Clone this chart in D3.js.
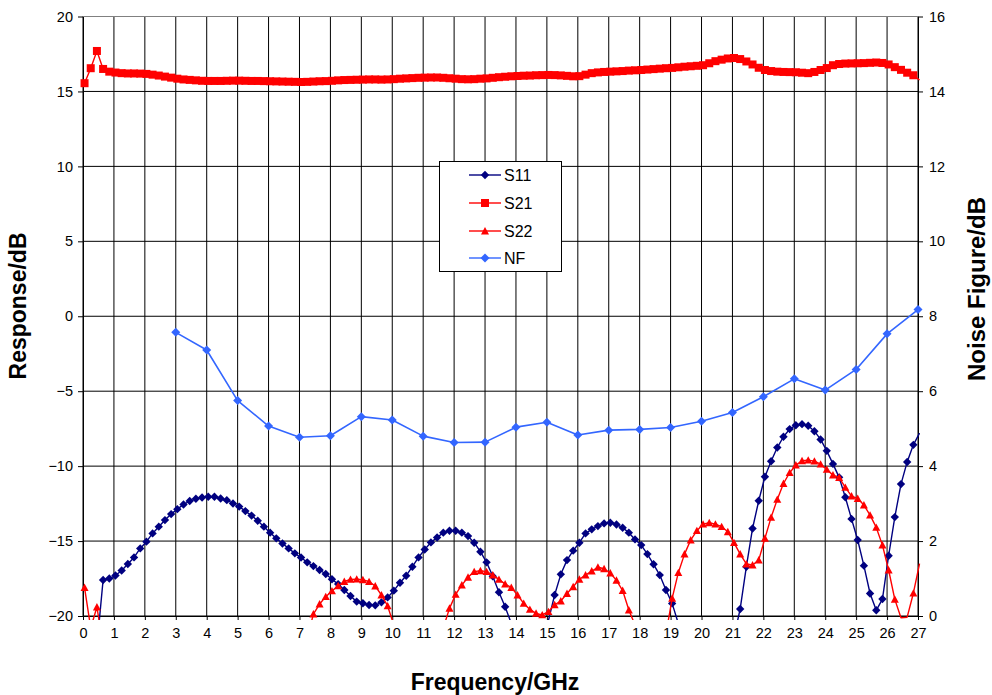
<!DOCTYPE html>
<html>
<head>
<meta charset="utf-8">
<script src="https://cdn.jsdelivr.net/npm/d3@7"></script>
<style>
  html, body { margin: 0; padding: 0; background: #fff; }
  svg { display: block; font-family: Arial, "Liberation Sans", sans-serif; }
</style>
</head>
<body>
<svg id="chart" width="992" height="695"></svg>
<script>
// ---- data ----
const freqStart = 0.05, freqStep = 0.2, nPoints = 136;
const freqs = d3.range(nPoints).map(i => +(freqStart + freqStep * i).toFixed(2));

const s11 = [-25,-25,-22,-17.6,-17.5,-17.3,-16.96,-16.53,-16.09,-15.49,
  -15.04,-14.49,-14.04,-13.6,-13.2,-12.87,-12.56,-12.33,-12.18,-12.09,
  -12.04,-12.04,-12.16,-12.27,-12.49,-12.7,-13.0,-13.3,-13.64,-14.04,
  -14.44,-14.82,-15.16,-15.49,-15.82,-16.1,-16.42,-16.67,-16.93,-17.2,
  -17.55,-17.87,-18.27,-18.67,-19.04,-19.15,-19.27,-19.29,-19.09,-18.76,
  -18.31,-17.78,-17.31,-16.71,-16.09,-15.56,-15.09,-14.76,-14.44,-14.31,
  -14.31,-14.44,-14.67,-15.11,-15.71,-16.42,-17.35,-18.42,-19.38,-20.5,
  -22,-24,-25,-25,-23,-20.3,-18.6,-17.22,-16.27,-15.64,
  -15.11,-14.49,-14.22,-14.0,-13.82,-13.78,-13.89,-14.11,-14.44,-14.89,
  -15.27,-15.87,-16.55,-17.27,-18.27,-19.16,-20.5,-22,-24,-26,
  -27,-28,-28,-27,-24,-21.4,-19.53,-16.71,-14.16,-12.31,
  -10.71,-9.67,-8.76,-8.04,-7.53,-7.27,-7.2,-7.31,-7.67,-8.22,
  -8.98,-9.85,-10.75,-12.08,-13.52,-14.93,-16.64,-18.5,-19.62,-18.87,
  -15.98,-13.4,-11.2,-9.72,-8.58,-7.8];

const s21 = [15.55,16.55,17.7,16.5,16.32,16.26,16.22,16.2,16.2,16.19,
  16.17,16.12,16.06,15.99,15.92,15.85,15.8,15.77,15.74,15.71,
  15.7,15.7,15.7,15.71,15.72,15.72,15.71,15.7,15.7,15.69,
  15.68,15.67,15.66,15.65,15.64,15.63,15.64,15.66,15.68,15.69,
  15.71,15.74,15.76,15.77,15.78,15.79,15.8,15.8,15.79,15.8,
  15.82,15.85,15.87,15.89,15.91,15.92,15.93,15.93,15.91,15.88,
  15.85,15.82,15.81,15.82,15.85,15.87,15.91,15.95,15.98,16.01,
  16.03,16.05,16.06,16.08,16.09,16.1,16.09,16.07,16.04,16.01,
  16.02,16.12,16.22,16.27,16.3,16.32,16.34,16.36,16.39,16.41,
  16.43,16.46,16.49,16.52,16.55,16.57,16.61,16.65,16.68,16.71,
  16.75,16.88,17.02,17.12,17.2,17.23,17.16,17.0,16.8,16.58,
  16.43,16.36,16.32,16.3,16.29,16.28,16.25,16.22,16.3,16.43,
  16.56,16.75,16.83,16.86,16.87,16.88,16.89,16.91,16.93,16.9,
  16.8,16.62,16.44,16.25,16.08,15.76];

const s22 = [-18.1,-20.8,-19.4,-22,-24,-26,-27,-28,-29,-29,
  -30,-30,-30,-29,-29,-28,-28,-27,-27,-26,
  -26,-26,-25,-25,-25,-25,-25,-24,-24,-24,
  -24,-23,-23,-23,-22,-22,-21.5,-19.87,-19.2,-18.71,
  -18.33,-17.98,-17.7,-17.56,-17.54,-17.58,-17.71,-18.0,-18.6,-19.33,
  -20.6,-23,-26,-28,-29,-28,-26,-23,-20.8,-19.49,
  -18.56,-17.93,-17.42,-17.04,-16.98,-17.04,-17.27,-17.56,-17.87,-18.1,
  -18.6,-19.16,-19.56,-19.82,-19.93,-19.71,-19.25,-19.0,-18.5,-18.05,
  -17.55,-17.27,-17.0,-16.75,-16.85,-17.13,-17.62,-18.3,-19.6,-20.6,
  -24,-26,-26,-24,-21.2,-18.82,-17.11,-15.87,-14.93,-14.31,
  -13.87,-13.78,-13.87,-14.04,-14.38,-15.11,-15.87,-16.53,-16.6,-16.27,
  -14.82,-13.42,-12.22,-11.16,-10.44,-9.93,-9.64,-9.6,-9.67,-9.87,
  -10.22,-10.6,-10.76,-11.42,-12.0,-12.16,-12.6,-13.27,-14.09,-15.27,
  -16.93,-18.89,-20.12,-20.08,-18.48,-16.5];

const nfFreqs = [3,4,5,6,7,8,9,10,11,12,13,14,15,16,17,18,19,20,21,22,23,24,25,26,27];
const nf = [7.57,7.1,5.75,5.07,4.77,4.81,5.32,5.23,4.8,4.63,4.64,5.04,5.17,4.83,4.96,4.98,5.03,5.2,5.43,5.85,6.33,6.03,6.58,7.53,8.18];

const xTicks = d3.range(0, 28, 1);
const yTicks = d3.range(-20, 21, 5);
const y2Ticks = d3.range(0, 17, 2);

const seriesNames = ["S11", "S21", "S22", "NF"];
const seriesColors = { S11: "#000080", S21: "#FF0000", S22: "#FF0000", NF: "#3366FF" };

// ---- layout ----
const svg = d3.select("#chart");
const L = 83, R = 918, T = 16.5, B = 616;

const x = d3.scaleLinear().domain([0, 27]).range([L, R]);
const y = d3.scaleLinear().domain([-20, 20]).range([B, T]);
const y2 = d3.scaleLinear().domain([0, 16]).range([B, T]);

svg.append("rect").attr("width", 992).attr("height", 695).attr("fill", "#fff");

// gridlines
const grid = svg.append("g").attr("stroke", "#000").attr("stroke-width", 1);
grid.selectAll("line.v").data(xTicks).join("line")
  .attr("x1", d => x(d)).attr("x2", d => x(d)).attr("y1", T).attr("y2", B);
grid.selectAll("line.h").data(yTicks).join("line")
  .attr("x1", L).attr("x2", R).attr("y1", d => y(d)).attr("y2", d => y(d));
svg.append("line").attr("x1", L).attr("x2", R).attr("y1", T).attr("y2", T).attr("stroke", "#808080");

// axes
const tickFont = g => g.selectAll("text").attr("font-size", 14.5).attr("fill", "#000")
  .attr("font-family", "Arial, 'Liberation Sans', sans-serif");
const axisStyle = g => { g.selectAll("path, line").attr("stroke", "#000"); };

svg.append("g").attr("transform", `translate(${L},0)`)
  .call(d3.axisLeft(y).tickValues(yTicks).tickSize(5).tickSizeOuter(0).tickPadding(5))
  .call(axisStyle).call(tickFont);
svg.append("g").attr("transform", `translate(${R},0)`)
  .call(d3.axisRight(y2).tickValues(y2Ticks).tickSize(5).tickSizeOuter(0).tickPadding(6))
  .call(axisStyle).call(tickFont);
svg.append("g").attr("transform", `translate(0,${B})`)
  .call(d3.axisBottom(x).tickValues(xTicks).tickSize(4).tickSizeOuter(0).tickPadding(8))
  .call(axisStyle).call(tickFont);
svg.selectAll(".domain").attr("stroke", "#000");

// axis titles
svg.append("text").attr("x", 495).attr("y", 690).attr("text-anchor", "middle")
  .attr("font-size", 23).attr("font-weight", "bold").text("Frequency/GHz");
svg.append("text").attr("transform", "translate(26,306) rotate(-90)").attr("text-anchor", "middle")
  .attr("font-size", 23).attr("font-weight", "bold").text("Response/dB");
svg.append("text").attr("transform", "translate(985,289) rotate(-90)").attr("text-anchor", "middle")
  .attr("font-size", 24).attr("font-weight", "bold").text("Noise Figure/dB");

// clip for lines
svg.append("clipPath").attr("id", "clip").append("rect")
  .attr("x", L - 4).attr("y", T - 4).attr("width", R - L + 8).attr("height", B - T + 8);

// marker shapes
function diamond(g, cx, cy, r, color) {
  g.append("path").attr("d", `M${cx},${cy - r}L${cx + r},${cy}L${cx},${cy + r}L${cx - r},${cy}Z`).attr("fill", color);
}
function square(g, cx, cy, r, color) {
  g.append("rect").attr("x", cx - r).attr("y", cy - r).attr("width", 2 * r).attr("height", 2 * r).attr("fill", color);
}
function triangle(g, cx, cy, r, color) {
  g.append("path").attr("d", `M${cx},${cy - r}L${cx + r},${cy + r * 0.85}L${cx - r},${cy + r * 0.85}Z`).attr("fill", color);
}
const markerFn = { S11: (g, a, b) => diamond(g, a, b, 4.2, seriesColors.S11),
                   S21: (g, a, b) => square(g, a, b, 4, seriesColors.S21),
                   S22: (g, a, b) => triangle(g, a, b, 4, seriesColors.S22),
                   NF:  (g, a, b) => diamond(g, a, b, 4.5, seriesColors.NF) };

function drawSeries(name, fx, vals, yScale, yMin, yMax, lw) {
  const pts = fx.map((f, i) => [f, vals[i]]);
  const g = svg.append("g");
  g.append("path").datum(pts).attr("clip-path", "url(#clip)")
    .attr("fill", "none").attr("stroke", seriesColors[name]).attr("stroke-width", lw)
    .attr("stroke-linejoin", "round")
    .attr("d", d3.line().x(d => x(d[0])).y(d => yScale(d[1])));
  pts.filter(d => d[1] >= yMin && d[1] <= yMax && d[0] <= 27)
    .forEach(d => markerFn[name](g, x(d[0]), yScale(d[1])));
}

drawSeries("S11", freqs, s11, y, -20, 20, 1.4);
drawSeries("S21", freqs, s21, y, -20, 20, 1.4);
drawSeries("S22", freqs, s22, y, -20, 20, 1.4);
drawSeries("NF", nfFreqs, nf, y2, 0, 16, 1.6);

// legend
const lg = svg.append("g");
lg.append("rect").attr("x", 439.5).attr("y", 161.5).attr("width", 122).attr("height", 110)
  .attr("fill", "#fff").attr("stroke", "#000").attr("stroke-width", 1);
const rowsY = [175, 203, 231, 258];
seriesNames.forEach((n, i) => {
  const yy = rowsY[i];
  lg.append("line").attr("x1", 469).attr("x2", 501).attr("y1", yy).attr("y2", yy)
    .attr("stroke", seriesColors[n]).attr("stroke-width", 1.4);
  markerFn[n](lg, 485, yy);
  lg.append("text").attr("x", 504).attr("y", yy + 6).attr("font-size", 16).text(n);
});
</script>
</body>
</html>
